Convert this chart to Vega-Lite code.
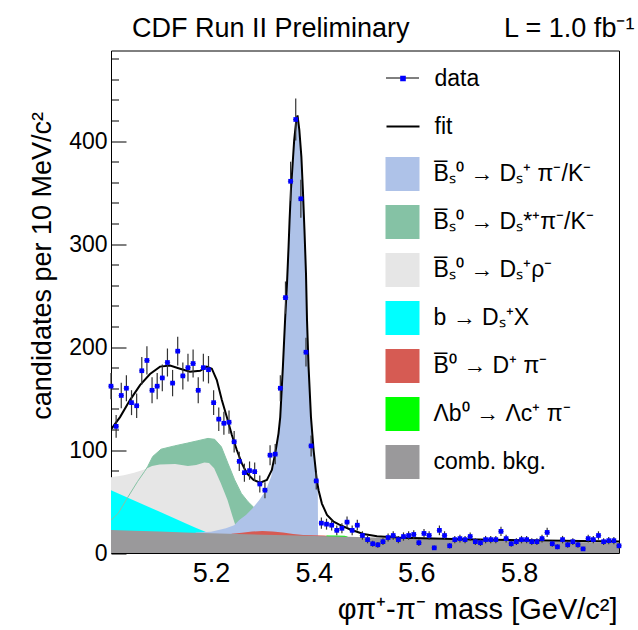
{
  "$schema": "https://vega.github.io/schema/vega-lite/v6.json",
  "width": 508,
  "height": 502.5,
  "autosize": {"type": "none"},
  "padding": {"left": 111, "top": 50.5, "right": 19, "bottom": 77},
  "background": "white",
  "title": {
    "text": "CDF Run II Preliminary\u2003\u2003\u2003\u2002L = 1.0 fb\u207b\u00b9",
    "anchor": "start", "frame": "group", "dx": 21, "dy": 31, "offset": 15,
    "baseline": "alphabetic", "font": "Liberation Sans", "fontSize": 27,
    "fontWeight": "normal", "color": "#000000"
  },
  "datasets": {
    "hist": [
      {"m":5.005,"v":162,"e":12.7},{"m":5.015,"v":123,"e":11.1},{"m":5.025,"v":153,"e":12.4},{"m":5.035,"v":160,"e":12.6},{"m":5.045,"v":146,"e":12.1},
      {"m":5.055,"v":143,"e":12.0},{"m":5.065,"v":177,"e":13.3},{"m":5.075,"v":187,"e":13.7},{"m":5.085,"v":158,"e":12.6},{"m":5.095,"v":162,"e":12.7},
      {"m":5.105,"v":170,"e":13.0},{"m":5.115,"v":185,"e":13.6},{"m":5.125,"v":165,"e":12.8},{"m":5.135,"v":196,"e":14.0},{"m":5.145,"v":172,"e":13.1},
      {"m":5.155,"v":180,"e":13.4},{"m":5.165,"v":184,"e":13.6},{"m":5.175,"v":158,"e":12.6},{"m":5.185,"v":180,"e":13.4},{"m":5.195,"v":178,"e":13.3},
      {"m":5.205,"v":146,"e":12.1},{"m":5.215,"v":130,"e":11.4},{"m":5.225,"v":126,"e":11.2},{"m":5.235,"v":127,"e":11.3},{"m":5.245,"v":108,"e":10.4},
      {"m":5.255,"v":89,"e":9.4},{"m":5.265,"v":78,"e":8.8},{"m":5.275,"v":80,"e":8.9},{"m":5.285,"v":79,"e":8.9},{"m":5.295,"v":67,"e":8.2},
      {"m":5.305,"v":61,"e":7.8},{"m":5.315,"v":95,"e":9.7},{"m":5.325,"v":96,"e":9.8},{"m":5.335,"v":160,"e":12.6},{"m":5.345,"v":248,"e":15.7},
      {"m":5.355,"v":361,"e":19.0},{"m":5.365,"v":421,"e":20.5},{"m":5.375,"v":344,"e":18.5},{"m":5.385,"v":195,"e":14.0},{"m":5.395,"v":104,"e":10.2},
      {"m":5.405,"v":70,"e":8.4},{"m":5.415,"v":29,"e":5.4},{"m":5.425,"v":28,"e":5.3},{"m":5.435,"v":27,"e":5.2},{"m":5.445,"v":22,"e":4.7},
      {"m":5.455,"v":24,"e":4.9},{"m":5.465,"v":30,"e":5.5},{"m":5.475,"v":22,"e":4.7},{"m":5.485,"v":27,"e":5.2},{"m":5.495,"v":17,"e":4.1},
      {"m":5.505,"v":13,"e":3.6},{"m":5.515,"v":9,"e":3.0},{"m":5.525,"v":8,"e":2.8},{"m":5.535,"v":11,"e":3.3},{"m":5.545,"v":15,"e":3.9},
      {"m":5.555,"v":17,"e":4.1},{"m":5.565,"v":13,"e":3.6},{"m":5.575,"v":16,"e":4.0},{"m":5.585,"v":17,"e":4.1},{"m":5.595,"v":18,"e":4.2},
      {"m":5.605,"v":10,"e":3.2},{"m":5.615,"v":19,"e":4.4},{"m":5.625,"v":17,"e":4.1},{"m":5.635,"v":5,"e":2.2},{"m":5.645,"v":22,"e":4.7},
      {"m":5.655,"v":17,"e":4.1},{"m":5.665,"v":7,"e":2.6},{"m":5.675,"v":13,"e":3.6},{"m":5.685,"v":14,"e":3.7},{"m":5.695,"v":13,"e":3.6},
      {"m":5.705,"v":16,"e":4.0},{"m":5.715,"v":11,"e":3.3},{"m":5.725,"v":10,"e":3.2},{"m":5.735,"v":13,"e":3.6},{"m":5.745,"v":13,"e":3.6},
      {"m":5.755,"v":13,"e":3.6},{"m":5.765,"v":21,"e":4.6},{"m":5.775,"v":14,"e":3.7},{"m":5.785,"v":9,"e":3.0},{"m":5.795,"v":11,"e":3.3},
      {"m":5.805,"v":13,"e":3.6},{"m":5.815,"v":13,"e":3.6},{"m":5.825,"v":11,"e":3.3},{"m":5.835,"v":11,"e":3.3},{"m":5.845,"v":14,"e":3.7},
      {"m":5.855,"v":20,"e":4.5},{"m":5.865,"v":9,"e":3.0},{"m":5.875,"v":6,"e":2.4},{"m":5.885,"v":13,"e":3.6},{"m":5.895,"v":8,"e":2.8},
      {"m":5.905,"v":11,"e":3.3},{"m":5.915,"v":8,"e":2.8},{"m":5.925,"v":4,"e":2.0},{"m":5.935,"v":14,"e":3.7},{"m":5.945,"v":13,"e":3.6},
      {"m":5.955,"v":17,"e":4.1},{"m":5.965,"v":11,"e":3.3},{"m":5.975,"v":12,"e":3.5},{"m":5.985,"v":12,"e":3.5},{"m":5.995,"v":7,"e":2.6}
    ],
    "fit": [
      {"m":5.005,"v":120},{"m":5.0226,"v":132},{"m":5.042,"v":148.5},{"m":5.0616,"v":163},{"m":5.081,"v":173.8},{"m":5.1006,"v":181},
      {"m":5.1201,"v":182},{"m":5.1396,"v":179},{"m":5.159,"v":176},{"m":5.1787,"v":177},{"m":5.1917,"v":181},{"m":5.2015,"v":179},
      {"m":5.2112,"v":168},{"m":5.221,"v":148.5},{"m":5.2307,"v":132},{"m":5.2405,"v":114.6},{"m":5.2502,"v":100},{"m":5.26,"v":87},
      {"m":5.2698,"v":77.4},{"m":5.2828,"v":70.9},{"m":5.2957,"v":68.3},{"m":5.3088,"v":70.9},{"m":5.3185,"v":80.6},{"m":5.325,"v":96.8},
      {"m":5.3314,"v":116},{"m":5.3348,"v":132},{"m":5.34,"v":181},{"m":5.3445,"v":229},{"m":5.348,"v":262},{"m":5.351,"v":297},
      {"m":5.353,"v":323},{"m":5.3556,"v":352},{"m":5.359,"v":378},{"m":5.362,"v":401},{"m":5.366,"v":420},{"m":5.3685,"v":425},
      {"m":5.372,"v":411},{"m":5.376,"v":385},{"m":5.379,"v":352},{"m":5.382,"v":314},{"m":5.385,"v":271.5},{"m":5.387,"v":226},
      {"m":5.39,"v":181},{"m":5.3947,"v":132},{"m":5.3998,"v":100},{"m":5.406,"v":71},{"m":5.4095,"v":61},{"m":5.416,"v":48},
      {"m":5.4259,"v":37},{"m":5.4388,"v":30.4},{"m":5.45,"v":27.5},{"m":5.4713,"v":22.8},{"m":5.497,"v":18.5},{"m":5.5234,"v":16.3},
      {"m":5.569,"v":14.8},{"m":5.634,"v":14.0},{"m":5.69,"v":13.4},{"m":5.75,"v":12.9},{"m":5.85,"v":12.2},{"m":5.995,"v":11.2}
    ],
    "comb": [
      {"m":5.005,"v":22.3},{"m":5.05,"v":21.6},{"m":5.1,"v":20.8},{"m":5.15,"v":20.0},{"m":5.2,"v":19.2},{"m":5.25,"v":18.5},
      {"m":5.3,"v":17.8},{"m":5.35,"v":17.2},{"m":5.4,"v":16.6},{"m":5.45,"v":16.0},{"m":5.5,"v":15.3},{"m":5.55,"v":14.6},
      {"m":5.6,"v":14.0},{"m":5.65,"v":13.4},{"m":5.7,"v":12.8},{"m":5.75,"v":12.2},{"m":5.8,"v":11.6},{"m":5.85,"v":11.1},
      {"m":5.9,"v":10.6},{"m":5.95,"v":10.2},{"m":5.995,"v":9.8}
    ],
    "sig": [
      {"m":5.17,"v":19.9},{"m":5.2,"v":20.6},{"m":5.229,"v":24},{"m":5.245,"v":27},{"m":5.255,"v":32},{"m":5.268,"v":37},
      {"m":5.281,"v":43.4},{"m":5.294,"v":51.5},{"m":5.307,"v":61},{"m":5.317,"v":74},{"m":5.323,"v":87},{"m":5.328,"v":104},
      {"m":5.3314,"v":113},{"m":5.3348,"v":129},{"m":5.34,"v":178},{"m":5.3445,"v":226},{"m":5.348,"v":260},{"m":5.351,"v":295},
      {"m":5.353,"v":321},{"m":5.3556,"v":350},{"m":5.359,"v":376},{"m":5.362,"v":399},{"m":5.366,"v":418},{"m":5.3685,"v":423},
      {"m":5.372,"v":409},{"m":5.376,"v":383},{"m":5.379,"v":350},{"m":5.382,"v":312},{"m":5.385,"v":270},{"m":5.387,"v":224},
      {"m":5.39,"v":179},{"m":5.3947,"v":130},{"m":5.3998,"v":98},{"m":5.406,"v":69},{"m":5.408,"v":62},{"m":5.4085,"v":17}
    ],
    "dss": [
      {"m":5.005,"v":32},{"m":5.019,"v":38.5},{"m":5.0376,"v":54},{"m":5.057,"v":69.6},{"m":5.0705,"v":79.3},{"m":5.0765,"v":84},
      {"m":5.0863,"v":93.7},{"m":5.1025,"v":100.8},{"m":5.1286,"v":104},{"m":5.1546,"v":106.8},{"m":5.174,"v":109},{"m":5.194,"v":111.3},
      {"m":5.207,"v":110.4},{"m":5.22,"v":103.2},{"m":5.233,"v":87},{"m":5.246,"v":71},{"m":5.259,"v":57.9},{"m":5.272,"v":49.8},
      {"m":5.285,"v":43.4},{"m":5.3,"v":35},{"m":5.32,"v":26},{"m":5.34,"v":20}
    ],
    "rho": [
      {"m":5.005,"v":73.5},{"m":5.03,"v":75.5},{"m":5.05,"v":78},{"m":5.07,"v":81},{"m":5.085,"v":84.5},{"m":5.1,"v":86},
      {"m":5.13,"v":86.4},{"m":5.155,"v":84.5},{"m":5.171,"v":85.5},{"m":5.187,"v":88},{"m":5.196,"v":87.5},{"m":5.206,"v":82.3},
      {"m":5.219,"v":67.7},{"m":5.232,"v":51.5},{"m":5.242,"v":35.3},{"m":5.248,"v":26},{"m":5.26,"v":21},{"m":5.28,"v":19}
    ],
    "bx": [
      {"m":5.005,"v":61},{"m":5.05,"v":51},{"m":5.1,"v":40},{"m":5.15,"v":29},{"m":5.171,"v":24.3},{"m":5.19,"v":20.5},{"m":5.2,"v":19.2}
    ],
    "b0": [
      {"m":5.24,"v":18.6},{"m":5.26,"v":19.6},{"m":5.28,"v":20.8},{"m":5.3,"v":21.4},{"m":5.32,"v":21.0},{"m":5.34,"v":19.8},
      {"m":5.36,"v":18.5},{"m":5.38,"v":17.6},{"m":5.4,"v":17.2},{"m":5.42,"v":16.9},{"m":5.43,"v":16.6}
    ],
    "lb": [
      {"m":5.425,"v":17.0},{"m":5.44,"v":17.0},{"m":5.46,"v":16.8},{"m":5.466,"v":16.0}
    ]
  },
  "encoding": {
    "x": {
      "field": "m", "type": "quantitative",
      "scale": {"domain": [5.005, 5.995], "nice": false, "zero": false},
      "axis": {
        "title": "\u03c6\u03c0\u207a-\u03c0\u207b mass [GeV/c\u00b2]",
        "values": [5.05,5.1,5.15,5.2,5.25,5.3,5.35,5.4,5.45,5.5,5.55,5.6,5.65,5.7,5.75,5.8,5.85,5.9,5.95],
        "labelExpr": "abs(datum.value*5 - round(datum.value*5)) < 0.000001 ? format(datum.value, '.1f') : ''",
        "tickSize": {"condition": {"test": "abs(datum.value*5 - round(datum.value*5)) < 0.000001", "value": -15}, "value": -8},
        "labelPadding": 22,
        "labelFontSize": 27,
        "titleFontSize": 29,
        "titleX": 506, "titleY": 65, "titleAlign": "right", "titleBaseline": "alphabetic", "titleAngle": 0
      }
    },
    "y": {
      "field": "v", "type": "quantitative",
      "scale": {"domain": [0, 488], "nice": false, "zero": true},
      "axis": {
        "title": "candidates per 10 MeV/c\u00b2",
        "values": [0,20,40,60,80,100,120,140,160,180,200,220,240,260,280,300,320,340,360,380,400,420,440,460,480],
        "labelExpr": "datum.value % 100 === 0 ? datum.label : ''",
        "tickSize": {"condition": {"test": "datum.value % 100 === 0", "value": -15}, "value": -7.5},
        "labelPadding": 19,
        "labelFontSize": 23,
        "titleX": -61, "titleY": 61, "titleAlign": "right", "titleBaseline": "alphabetic", "titleAngle": 270
      }
    }
  },
  "layer": [
    {
      "data": {"name": "dss"},
      "mark": {"type": "area", "clip": true},
      "encoding": {"fill": {"datum": "B\u0305\u209b\u2070 \u2192 D\u209b*\u207a\u03c0\u207b/K\u207b"}}
    },
    {
      "data": {"name": "rho"},
      "mark": {"type": "area", "clip": true},
      "encoding": {"fill": {"datum": "B\u0305\u209b\u2070 \u2192 D\u209b\u207a\u03c1\u207b"}}
    },
    {
      "data": {"name": "bx"},
      "mark": {"type": "area", "clip": true},
      "encoding": {"fill": {"datum": "b \u2192 D\u209b\u207aX"}}
    },
    {
      "data": {"name": "dss"},
      "mark": {"type": "line", "color": "#86c3a5", "strokeWidth": 1, "clip": true},
      "encoding": {}
    },
    {
      "data": {"name": "sig"},
      "mark": {"type": "area", "clip": true},
      "encoding": {"fill": {"datum": "B\u0305\u209b\u2070 \u2192 D\u209b\u207a \u03c0\u207b/K\u207b"}}
    },
    {
      "data": {"name": "b0"},
      "mark": {"type": "area", "clip": true},
      "encoding": {"fill": {"datum": "B\u0305\u2070 \u2192 D\u207a \u03c0\u207b"}}
    },
    {
      "data": {"name": "lb"},
      "mark": {"type": "area", "clip": true},
      "encoding": {"fill": {"datum": "\u039bb\u2070 \u2192 \u039bc\u207a \u03c0\u207b"}}
    },
    {
      "data": {"name": "comb"},
      "mark": {"type": "area", "clip": true},
      "encoding": {
        "fill": {
          "datum": "comb. bkg.",
          "scale": {
            "domain": [
              "B\u0305\u209b\u2070 \u2192 D\u209b\u207a \u03c0\u207b/K\u207b",
              "B\u0305\u209b\u2070 \u2192 D\u209b*\u207a\u03c0\u207b/K\u207b",
              "B\u0305\u209b\u2070 \u2192 D\u209b\u207a\u03c1\u207b",
              "b \u2192 D\u209b\u207aX",
              "B\u0305\u2070 \u2192 D\u207a \u03c0\u207b",
              "\u039bb\u2070 \u2192 \u039bc\u207a \u03c0\u207b",
              "comb. bkg."
            ],
            "range": ["#aec2e8", "#85c2a5", "#e6e6e6", "#00ffff", "#d65b53", "#00ff00", "#9a999b"]
          },
          "legend": {
            "orient": "none", "legendX": 274.5, "legendY": 106.5, "title": null,
            "symbolType": "square", "symbolSize": 1156, "symbolStrokeWidth": 0, "symbolOpacity": 1
          }
        }
      }
    },
    {
      "data": {"name": "fit"},
      "mark": {"type": "line", "strokeWidth": 2, "clip": true},
      "encoding": {
        "stroke": {
          "datum": "fit",
          "scale": {"domain": ["fit"], "range": ["#000000"]},
          "legend": {
            "orient": "none", "legendX": 274.5, "legendY": 58.5, "title": null,
            "symbolType": "stroke", "symbolSize": 1089, "symbolStrokeWidth": 2
          }
        }
      }
    },
    {
      "data": {"name": "hist"},
      "transform": [{"filter": "datum.m < 0"}],
      "mark": {"type": "line", "color": "#000000", "strokeWidth": 1},
      "encoding": {
        "strokeDash": {
          "datum": "dataline",
          "scale": {"domain": ["dataline"], "range": [[1, 0]]},
          "legend": {
            "orient": "none", "legendX": 274.5, "legendY": 10.5, "title": null,
            "symbolType": "stroke", "symbolSize": 1089, "symbolStrokeWidth": 1,
            "symbolStrokeColor": "#000000",
            "labelExpr": "''"
          }
        }
      }
    },
    {
      "data": {"name": "hist"},
      "mark": {"type": "errorbar", "ticks": false, "color": "#333333", "thickness": 1.2},
      "encoding": {"yError": {"field": "e"}}
    },
    {
      "data": {"name": "hist"},
      "mark": {"type": "tick", "orient": "horizontal", "size": 5.5, "thickness": 1, "color": "#333333"}
    },
    {
      "data": {"name": "hist"},
      "mark": {"type": "point", "shape": "square", "filled": true, "size": 22, "color": "#0000ff", "strokeWidth": 0},
      "encoding": {
        "opacity": {
          "datum": "data",
          "scale": {"domain": ["data"], "range": [1]},
          "legend": {
            "orient": "none", "legendX": 274.5, "legendY": 10.5, "title": null,
            "symbolType": "M-1,0H1M-0.17,-0.17H0.17V0.17H-0.17Z", "symbolSize": 1089,
            "symbolFillColor": "#0000ff"
          }
        }
      }
    }
  ],
  "config": {
    "font": "Liberation Sans",
    "view": {"stroke": "#000000", "strokeWidth": 1},
    "axis": {
      "domain": false, "grid": false,
      "tickColor": "#000000", "tickWidth": 1,
      "labelFont": "Liberation Sans", "labelColor": "#000000",
      "labelFlush": false, "labelOverlap": false, "labelBound": false,
      "titleFont": "Liberation Sans", "titleFontSize": 27, "titleFontWeight": "normal", "titleColor": "#000000"
    },
    "legend": {
      "labelFont": "Liberation Sans", "labelFontSize": 23, "labelColor": "#000000",
      "padding": 0, "labelOffset": 14, "rowPadding": 14, "labelLimit": 400
    }
  }
}
